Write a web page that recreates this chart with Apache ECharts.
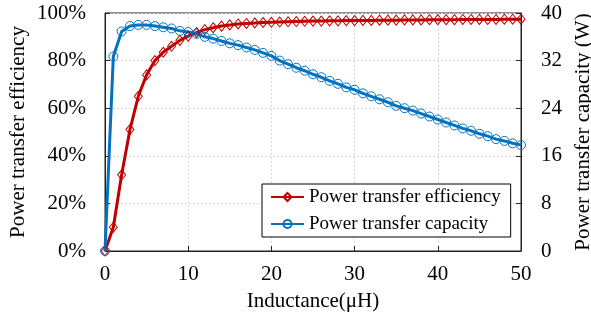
<!DOCTYPE html>
<html>
<head>
<meta charset="utf-8">
<script src="https://cdn.jsdelivr.net/npm/echarts@6/dist/echarts.min.js"></script>
<style>
  html, body { margin: 0; padding: 0; background: #fff; }
  #chart { width: 591px; height: 326px; }
</style>
</head>
<body>
<div id="chart"></div>
<script>
// inductance in uH, one point per 1 uH
const inductance = [0,1,2,3,4,5,6,7,8,9,10,11,12,13,14,15,16,17,18,19,20,21,22,23,24,25,
  26,27,28,29,30,31,32,33,34,35,36,37,38,39,40,41,42,43,44,45,46,47,48,49,50]

// efficiency in %
const efficiency = [0,10,32,51,65,74,80,83.5,86,88.5,90.3,91.8,93,93.8,94.5,95,95.4,95.6,95.8,96,
  96.1,96.2,96.3,96.4,96.5,96.6,96.6,96.7,96.7,96.8,96.8,96.9,96.9,97,97,97,97.1,97.1,97.1,97.2,
  97.2,97.2,97.2,97.3,97.3,97.3,97.3,97.3,97.4,97.4,97.4]

// capacity in W
const capacity = [0,32.7,36.9,37.8,38,38,37.8,37.6,37.4,37,36.8,36.5,36,35.7,35.3,34.9,34.6,34.2,
  33.8,33.3,32.8,32,31.4,30.8,30.3,29.7,29.2,28.6,28.1,27.5,27.1,26.5,26,25.5,25,24.4,24,23.6,
  23.1,22.6,22.1,21.6,21.1,20.6,20.2,19.7,19.3,18.8,18.5,18.1,17.8]

const seriesNames = ['Power transfer efficiency', 'Power transfer capacity']
const RED = '#c00000'
const BLUE = '#0072c0'
const FONT = 'Liberation Serif'

const chart = echarts.init(document.getElementById('chart'), null, { renderer: 'canvas' })

function pairs(ys) {
  return inductance.map((x, i) => [x, ys[i]])
}

const txt = { fontFamily: FONT, fontSize: 21, color: '#000' }

const option = {
  animation: false,
  grid: {
    left: 105, right: 70, top: 13, bottom: 75,
    containLabel: false,
    outerBoundsMode: 'none',
    show: true, borderColor: '#222', borderWidth: 1
  },
  legend: {
    orient: 'vertical',
    left: 262, top: 184,
    padding: [3, 10, 3, 8],
    itemWidth: 33, itemHeight: 10, itemGap: 7,
    backgroundColor: '#fff',
    borderColor: '#000', borderWidth: 1,
    textStyle: { fontFamily: FONT, fontSize: 19, color: '#000', lineHeight: 20 },
    data: seriesNames
  },
  xAxis: {
    type: 'value', min: 0, max: 50, interval: 10,
    name: 'Inductance(μH)', nameLocation: 'middle', nameGap: 40,
    nameMoveOverlap: false,
    nameTextStyle: txt,
    axisLine: { lineStyle: { color: '#222', width: 1 } },
    axisTick: { inside: true, length: 5, lineStyle: { color: '#222' } },
    axisLabel: Object.assign({ margin: 13 }, txt),
    splitLine: { show: true, lineStyle: { color: '#d9d9d9', type: [2, 2] } }
  },
  yAxis: [{
    type: 'value', min: 0, max: 100, interval: 20,
    name: 'Power transfer efficiency', nameLocation: 'middle', nameGap: 76,
    nameMoveOverlap: false,
    nameTextStyle: txt,
    axisLine: { show: true, lineStyle: { color: '#222' } },
    axisTick: { show: true, inside: true, length: 5, lineStyle: { color: '#222' } },
    axisLabel: Object.assign({ margin: 19, formatter: '{value}%' }, txt),
    splitLine: { show: true, lineStyle: { color: '#d9d9d9', type: [2, 2] } }
  }, {
    type: 'value', min: 0, max: 40, interval: 8, position: 'right',
    name: 'Power transfer capacity (W)', nameLocation: 'middle', nameGap: 52,
    nameMoveOverlap: false,
    nameTextStyle: txt,
    axisLine: { show: true, lineStyle: { color: '#222' } },
    axisTick: { show: true, inside: true, length: 5, lineStyle: { color: '#222' } },
    axisLabel: Object.assign({ margin: 20 }, txt),
    splitLine: { show: false }
  }],
  series: [{
    name: seriesNames[0],
    type: 'line',
    yAxisIndex: 0,
    data: pairs(efficiency),
    color: RED,
    symbol: 'diamond',
    symbolSize: [8, 10],
    showAllSymbol: true,
    lineStyle: { color: RED, width: 3 },
    itemStyle: { color: 'rgba(255,255,255,0)', borderColor: RED, borderWidth: 1 }
  }, {
    name: seriesNames[1],
    type: 'line',
    yAxisIndex: 1,
    data: pairs(capacity),
    color: BLUE,
    symbol: 'circle',
    symbolSize: 9,
    showAllSymbol: true,
    lineStyle: { color: BLUE, width: 3 },
    itemStyle: { color: 'rgba(255,255,255,0)', borderColor: BLUE, borderWidth: 1 }
  }]
}

chart.setOption(option)
</script>
</body>
</html>
